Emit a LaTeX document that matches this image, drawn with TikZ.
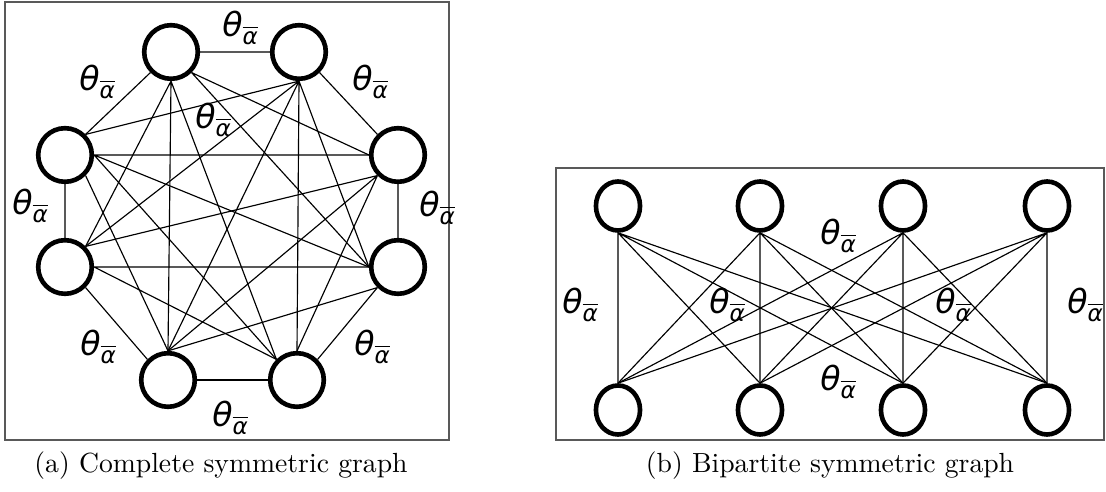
\documentclass[tikz,border=0pt]{standalone}
\usepackage{fontspec}
\usetikzlibrary{shapes.geometric}
\newfontfamily\lblfont{DejaVu Sans}
\newcommand{\thlabel}{{\lblfont\itshape θ}\raisebox{-0.6ex}{$\overline{\hbox{\lblfont\itshape\fontsize{8}{9}\selectfont α}}$}}

\begin{document}
\begin{tikzpicture}[x=0.3469pt,y=-0.3469pt,
    vtx/.style={circle,draw,line width=1.6pt,minimum size=18.6pt,inner sep=0pt},
    bvtx/.style={ellipse,draw,line width=1.6pt,minimum width=15.3pt,minimum height=17pt,inner sep=0pt},
    edge/.style={line width=0.4pt},
    frm/.style={draw=black!65,line width=0.6pt},
    lbl/.style={font=\fontsize{11.5}{13}\selectfont,inner sep=0pt},
    captext/.style={font=\fontsize{9.6}{11}\selectfont,inner sep=0pt}]
    \useasboundingbox (0,0) rectangle (1106,492);

    \draw[frm] (5,2) rectangle (449,440);
    \draw[frm] (556,168) rectangle (1104,440);

    \node[vtx] (TL) at (171,52) {};
    \node[vtx] (TR) at (299,52) {};
    \node[vtx] (LU) at (65,155) {};
    \node[vtx] (RU) at (398,155) {};
    \node[vtx] (LL) at (65,267) {};
    \node[vtx] (RL) at (398,267) {};
    \node[vtx] (BL) at (168,380) {};
    \node[vtx] (BR) at (297,380) {};

    \draw[edge] (TL.east) -- (TR.west)
        (TL.south west) -- (LU.north east)
        (TL.south) -- (LL.north east)
        (TL.south) -- (BL.north)
        (TL.south) -- (BR.north west)
        (TL.south east) -- (RU.west)
        (TL.south east) -- (RL.west);
    \draw[edge] (TR.south east) -- (RU.north west)
        (TR.south) -- (LU.north east)
        (TR.south) -- (LL.north east)
        (TR.south) -- (BL.north)
        (TR.south) -- (BR.north)
        (TR.south) -- (RL.west);
    \draw[edge] (LU.south) -- (LL.north)
        (LU.east) -- (RU.west)
        (LU.east) -- (RL.west)
        (LU.east) -- (BR.north west)
        (LU.south east) -- (BL.north);
    \draw[edge] (RU.south) -- (RL.north)
        (RU.south west) -- (LL.north east)
        (RU.south west) -- (BL.north)
        (RU.south west) -- (BR.north);
    \draw[edge] (LL.east) -- (RL.west)
        (LL.east) -- (BR.north west)
        (LL.south east) -- (BL.north west);
    \draw[edge] (RL.south west) -- (BL.north)
        (RL.south west) -- (BR.north east);
    \draw[edge] (BL.east) -- (BR.west);

    \node[lbl] (la1) at (240,28) {\thlabel};
    \node[lbl] (la2) at (97,82) {\thlabel};
    \node[lbl] (la3) at (370,82) {\thlabel};
    \node[lbl] (la4) at (213,120) {\thlabel};
    \node[lbl] (la5) at (30,206) {\thlabel};
    \node[lbl] (la6) at (437,208) {\thlabel};
    \node[lbl] (la7) at (98,347) {\thlabel};
    \node[lbl] (la8) at (372,347) {\thlabel};
    \node[lbl] (la9) at (230,418) {\thlabel};

    \node[bvtx] (T1) at (618,206) {};
    \node[bvtx] (T2) at (760,206) {};
    \node[bvtx] (T3) at (903,206) {};
    \node[bvtx] (T4) at (1047,206) {};
    \node[bvtx] (B1) at (618,410) {};
    \node[bvtx] (B2) at (760,410) {};
    \node[bvtx] (B3) at (903,410) {};
    \node[bvtx] (B4) at (1047,410) {};

    \draw[edge] (T1.south) -- (B1.north) (T1.south) -- (B2.north)
        (T1.south) -- (B3.north) (T1.south) -- (B4.north);
    \draw[edge] (T2.south) -- (B1.north) (T2.south) -- (B2.north)
        (T2.south) -- (B3.north) (T2.south) -- (B4.north);
    \draw[edge] (T3.south) -- (B1.north) (T3.south) -- (B2.north)
        (T3.south) -- (B3.north) (T3.south) -- (B4.north);
    \draw[edge] (T4.south) -- (B1.north) (T4.south) -- (B2.north)
        (T4.south) -- (B3.north) (T4.south) -- (B4.north);

    \node[lbl] (lb1) at (838,236) {\thlabel};
    \node[lbl] (lb2) at (580,305) {\thlabel};
    \node[lbl] (lb3) at (727,305) {\thlabel};
    \node[lbl] (lb4) at (953,305) {\thlabel};
    \node[lbl] (lb5) at (1085,305) {\thlabel};
    \node[lbl] (lb6) at (838,382) {\thlabel};

    \node[captext] (capa) at (221,466) {(a) Complete symmetric graph};
    \node[captext] (capb) at (830,466) {(b) Bipartite symmetric graph};
\end{tikzpicture}
\end{document}
